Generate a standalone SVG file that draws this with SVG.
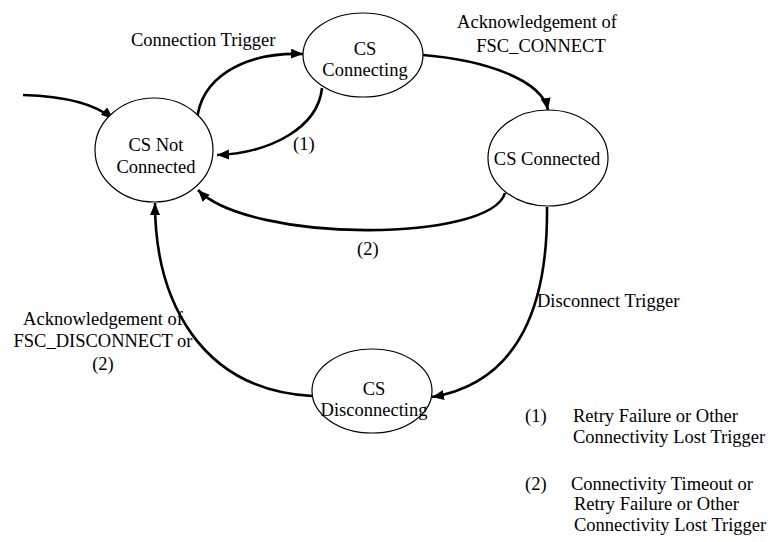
<svg xmlns="http://www.w3.org/2000/svg" width="773" height="542" viewBox="0 0 773 542">
  <style>
    .state { fill: #ffffff; stroke: #000000; stroke-width: 1.2; }
    .txt { font-family: "Liberation Serif", "Times New Roman", serif; font-size: 18.5px; fill: #000000; }
    .mid { text-anchor: middle; }
    .edge { fill: none; stroke: #000000; stroke-width: 2.6; marker-end: url(#arrow); }
  </style>
  <defs>
    <marker id="arrow" markerUnits="userSpaceOnUse" markerWidth="14" markerHeight="12" refX="12" refY="5" orient="auto">
      <path d="M0,0 L12,5 L0,10 Z" fill="#000000"/>
    </marker>
  </defs>

  <rect width="773" height="542" fill="#ffffff"/>

  <!-- transitions -->
  <g id="connectors">
    <path class="edge" d="M23,95 Q88,97 113,119"/>
    <path class="edge" d="M197,121 C200,80 240,52 303,54"/>
    <path class="edge" d="M322,88 C318,128 270,153 217,155"/>
    <path class="edge" d="M423,55 C485,60 542,80 548,110"/>
    <path class="edge" d="M505,193 C490,243 250,243 198,190"/>
    <path class="edge" d="M547,207 C548,300 522,382 432,397"/>
    <path class="edge" d="M312,396 C200,390 155,300 155,203"/>
  </g>

  <!-- states -->
  <g id="cs-not-connected">
    <ellipse class="state" cx="154" cy="150" rx="59" ry="52"/>
    <text class="txt mid" x="156" y="151">CS Not</text>
    <text class="txt mid" x="156" y="173">Connected</text>
  </g>
  <g id="cs-connecting">
    <ellipse class="state" cx="363" cy="55" rx="60" ry="42"/>
    <text class="txt mid" x="365" y="55">CS</text>
    <text class="txt mid" x="365" y="76">Connecting</text>
  </g>
  <g id="cs-connected">
    <ellipse class="state" cx="548" cy="158" rx="60" ry="48"/>
    <text class="txt mid" x="547" y="165">CS Connected</text>
  </g>
  <g id="cs-disconnecting">
    <ellipse class="state" cx="372" cy="391" rx="60" ry="42"/>
    <text class="txt mid" x="374" y="395">CS</text>
    <text class="txt mid" x="374" y="416">Disconnecting</text>
  </g>

  <!-- transition labels -->
  <g id="labels">
    <text class="txt" x="131" y="46">Connection Trigger</text>
    <text class="txt mid" x="537" y="28">Acknowledgement of</text>
    <text class="txt mid" x="541" y="52">FSC_CONNECT</text>
    <text class="txt" x="293" y="150">(1)</text>
    <text class="txt" x="357" y="255">(2)</text>
    <text class="txt" x="537" y="307">Disconnect Trigger</text>
    <text class="txt mid" x="103" y="325">Acknowledgement of</text>
    <text class="txt mid" x="103" y="347">FSC_DISCONNECT or</text>
    <text class="txt mid" x="103" y="370">(2)</text>
  </g>

  <!-- legend -->
  <g id="legend">
    <text class="txt" x="525" y="422">(1)</text>
    <text class="txt" x="573" y="422">Retry Failure or Other</text>
    <text class="txt" x="573" y="443">Connectivity Lost Trigger</text>
    <text class="txt" x="525" y="490">(2)</text>
    <text class="txt" x="571" y="490">Connectivity Timeout or</text>
    <text class="txt" x="574" y="510">Retry Failure or Other</text>
    <text class="txt" x="574" y="531">Connectivity Lost Trigger</text>
  </g>
</svg>
